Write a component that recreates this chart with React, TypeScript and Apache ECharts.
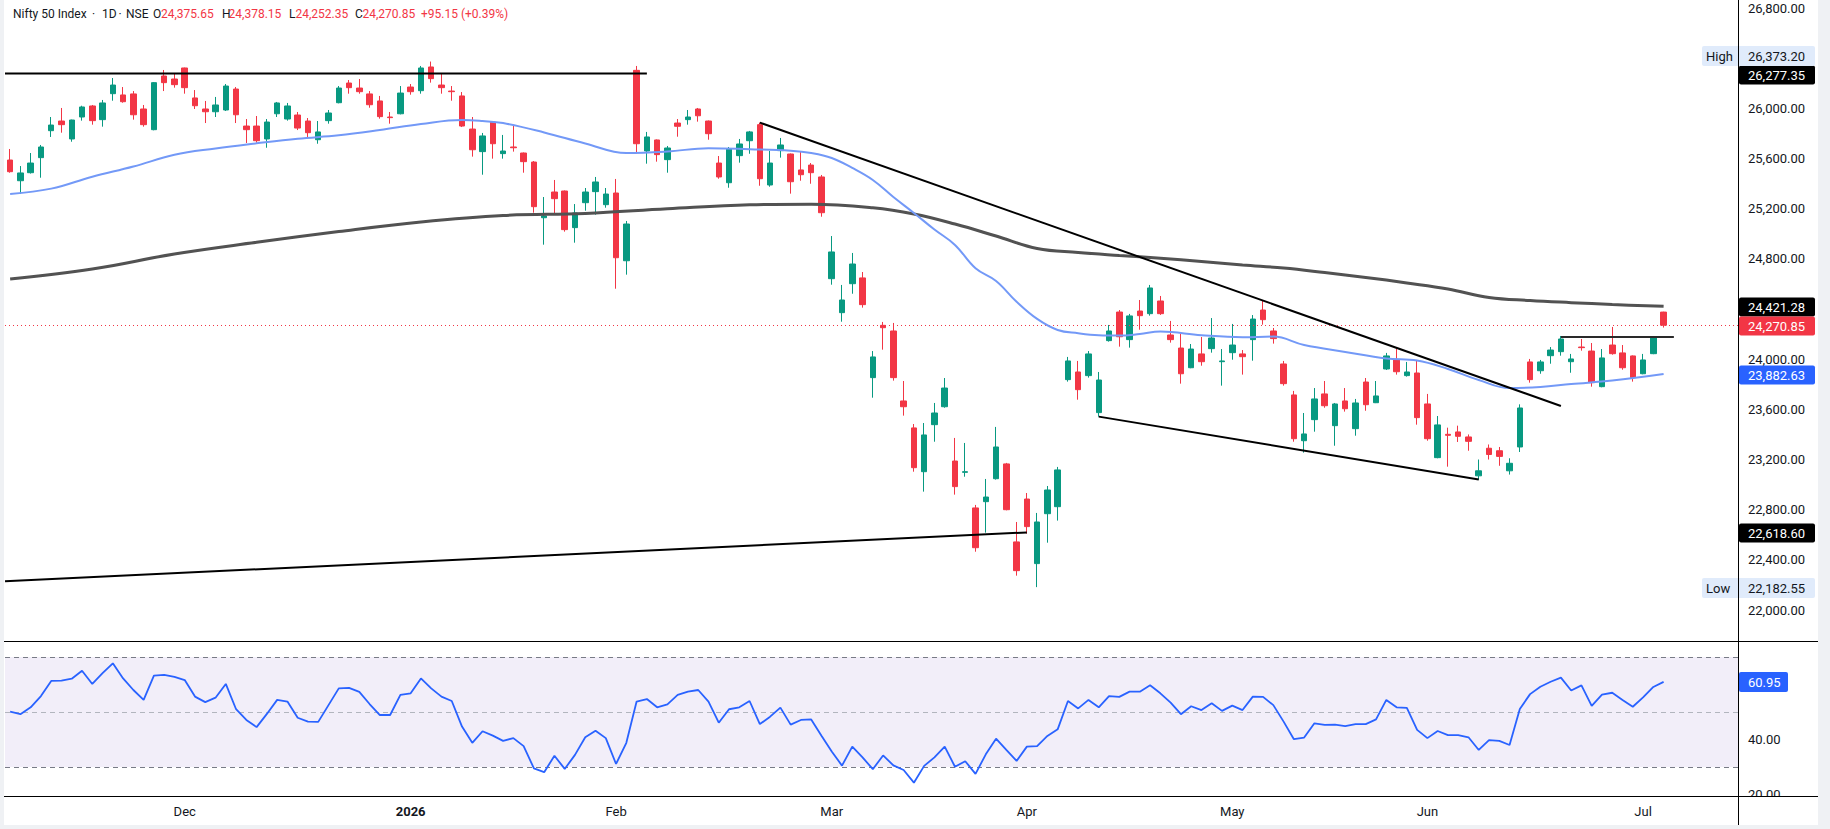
import React, { useEffect, useRef } from 'react';
import * as echarts from 'echarts';

// ---------- DATA ----------
const OPEN = [
  25588, 25423, 25487, 25607, 25822, 25899, 25756, 25931, 26019, 25910,
  26117, 26107, 26115, 25995, 25830, 26258, 26234, 26322, 26083, 25995,
  25973, 25987, 26154, 25859, 25859, 25756, 25957, 25915, 25947, 25899,
  25750, 25902, 26045, 26202, 26162, 26115, 26059, 25931, 25957, 26170,
  26141, 26330, 26186, 26138, 26099, 25835, 25655, 25891, 25639, 25692,
  25644, 25572, 25128, 25333, 25341, 25049, 25248, 25336, 25232, 25325,
  24785, 26303, 25660, 25748, 25591, 25883, 25910, 25995, 25899, 25564,
  25407, 25623, 25742, 25870, 25389, 25663, 25636, 25509, 25548, 25453,
  24642, 24371, 24602, 24648, 23853, 24270, 24225, 23667, 23452, 23103,
  23478, 23621, 23188, 23098, 22814, 22864, 23047, 23165, 22543, 22885,
  22370, 22768, 22824, 23837, 23898, 23869, 23574, 24148, 24376, 24156,
  24384, 24363, 24464, 24193, 24089, 23932, 24042, 24084, 23980, 24052,
  24042, 24156, 24392, 24225, 23962, 23715, 23350, 23518, 23723, 23470,
  23667, 23446, 23818, 23653, 23922, 23994, 23869, 23890, 23643, 23215,
  23401, 23420, 23380, 23070, 23290, 23270, 23110, 23300, 23978, 23908,
  24028, 24060, 23980, 24097, 24065, 23781, 24113, 24050, 24026, 23884,
  24044, 24375.65,
];
const HIGH = [
  25676, 25540, 25644, 25708, 25931, 26003, 25910, 26021, 26027, 26067,
  26242, 26170, 26138, 26027, 26210, 26306, 26276, 26325, 26146, 26059,
  26091, 26194, 26170, 25915, 25939, 25915, 26051, 26043, 25971, 25923,
  25899, 25987, 26178, 26226, 26234, 26138, 26099, 25971, 26178, 26194,
  26338, 26373.2, 26274, 26178, 26130, 25931, 25804, 25895, 25788, 25867,
  25648, 25580, 25293, 25429, 25345, 25237, 25365, 25453, 25365, 25437,
  25102, 26338, 25812, 25752, 25700, 25915, 25987, 26003, 25903, 25620,
  25692, 25756, 25820, 25886, 25660, 25764, 25640, 25652, 25564, 25469,
  24982, 24592, 24847, 24695, 24065, 24297, 24289, 23826, 23483, 23491,
  23651, 23850, 23372, 23332, 22838, 23045, 23460, 23173, 22702, 22933,
  22774, 22989, 23141, 24018, 23986, 24065, 23898, 24273, 24392, 24361,
  24472, 24592, 24504, 24305, 24201, 24121, 24177, 24328, 24081, 24281,
  24073, 24352, 24472, 24249, 23986, 23747, 23571, 23770, 23826, 23651,
  23770, 23683, 23850, 23826, 24050, 24081, 23978, 23994, 23723, 23547,
  23454, 23470, 23400, 23200, 23320, 23300, 23210, 23640, 24002, 23994,
  24097, 24185, 24042, 24161, 24129, 24081, 24257, 24113, 24030, 24042,
  24185, 24378.15,
];
const LOW = [
  25487, 25317, 25480, 25447, 25772, 25806, 25734, 25902, 25870, 25854,
  26061, 26045, 25910, 25854, 25825, 26138, 26165, 26117, 25995, 25883,
  25931, 25979, 25883, 25724, 25726, 25686, 25931, 25902, 25827, 25764,
  25718, 25878, 26040, 26117, 26117, 26005, 25918, 25878, 25952, 26109,
  26117, 26205, 26117, 26061, 25851, 25615, 25471, 25599, 25599, 25655,
  25487, 25168, 24913, 25160, 25017, 24929, 25184, 25152, 25208, 24562,
  24674, 25640, 25559, 25575, 25487, 25774, 25870, 25894, 25750, 25439,
  25367, 25567, 25638, 25383, 25375, 25607, 25320, 25423, 25399, 25136,
  24594, 24299, 24522, 24411, 23693, 24076, 23829, 23550, 23103, 22944,
  23342, 23613, 22920, 23063, 22465, 22617, 23040, 22795, 22274, 22609,
  22182.55, 22537, 22713, 23821, 23677, 23853, 23542, 24140, 24100, 24092,
  24235, 24347, 24353, 24132, 23805, 23928, 23948, 24052, 23789, 23996,
  23877, 23988, 24275, 24124, 23789, 23342, 23255, 23422, 23613, 23310,
  23582, 23390, 23589, 23650, 23914, 23877, 23861, 23478, 23350, 23210,
  23143, 23340, 23270, 23040, 23200, 23150, 23080, 23260, 23813, 23884,
  23964, 24028, 23892, 24068, 23781, 23776, 24036, 23916, 23821, 23880,
  24040, 24252.35,
];
const CLOSE = [
  25495, 25485, 25564, 25692, 25867, 25870, 25907, 26011, 25902, 26043,
  26186, 26053, 25949, 25870, 26205, 26205, 26189, 26165, 26021, 25973,
  26027, 26178, 25949, 25830, 25742, 25891, 26043, 26019, 25843, 25806,
  25812, 25963, 26162, 26165, 26133, 26029, 25934, 25926, 26122, 26133,
  26322, 26237, 26165, 26133, 25859, 25670, 25780, 25718, 25660, 25686,
  25575, 25216, 25142, 25280, 25033, 25166, 25333, 25413, 25317, 24809,
  25078, 25718, 25772, 25631, 25684, 25857, 25931, 25941, 25798, 25453,
  25676, 25716, 25812, 25439, 25564, 25708, 25415, 25471, 25487, 25168,
  24855, 24472, 24759, 24435, 24018, 24251, 23853, 23621, 23135, 23396,
  23571, 23770, 22984, 23103, 22497, 22901, 23300, 22800, 22314, 22665,
  22702, 22957, 23117, 23986, 23757, 24042, 23834, 24225, 24179, 24345,
  24347, 24568, 24363, 24156, 23884, 24081, 23980, 24169, 23986, 24113,
  24020, 24320, 24315, 24164, 23805, 23366, 23404, 23683, 23629, 23643,
  23605, 23651, 23637, 23707, 24026, 23900, 23898, 23534, 23366, 23476,
  23393, 23385, 23345, 23110, 23240, 23225, 23170, 23611, 23837, 23978,
  24073, 24161, 24002, 24092, 23813, 24010, 24044, 23932, 23853, 23994,
  24175.7, 24270.85,
];
const RSI = [
  50.1, 49.2, 51.7, 55.8, 61.3, 61.4, 62.1, 65.0, 60.2, 64.1,
  67.7, 62.2, 58.0, 54.4, 63.2, 63.5, 62.8, 61.6, 55.6, 53.6,
  55.2, 60.2, 51.0, 47.1, 44.5, 49.3, 54.4, 53.8, 47.9, 46.5,
  46.4, 52.5, 58.6, 58.8, 57.3, 52.9, 48.9, 48.9, 56.2, 56.8,
  62.2, 58.6, 55.6, 54.0, 44.7, 38.8, 43.0, 41.4, 39.5, 40.5,
  37.6, 29.5, 28.1, 34.1, 29.3, 34.4, 40.8, 43.2, 40.5, 31.1,
  38.8, 53.8, 54.7, 51.7, 52.8, 56.2, 57.4, 58.0, 53.8, 46.1,
  51.0, 51.7, 54.0, 45.6, 48.3, 51.6, 45.4, 47.1, 47.3, 41.4,
  35.6, 30.5, 37.4, 33.5, 29.2, 34.2, 30.6, 28.9, 24.3, 30.4,
  33.5, 37.4, 30.1, 32.1, 27.5, 34.6, 40.3, 36.2, 32.2, 37.4,
  37.6, 41.3, 43.7, 54.0, 51.3, 54.4, 51.7, 55.8, 55.5, 57.4,
  57.4, 59.7, 56.8, 53.4, 49.2, 52.1, 50.7, 53.2, 50.4, 52.3,
  50.7, 55.6, 55.5, 52.5, 46.5, 40.1, 40.7, 45.9, 45.3, 45.4,
  44.9, 45.6, 45.6, 47.3, 54.4, 51.7, 51.5, 43.5, 40.5, 43.1,
  41.6, 41.6, 40.8, 36.2, 39.8, 39.5, 38.0, 51.1, 56.5, 59.2,
  61.0, 62.5, 57.8, 59.7, 52.2, 56.3, 57.0, 54.4, 51.9, 55.3,
  59.1, 60.95,
];
// moving averages read at sample bars: [bar index, value]
const MA50 = [
  [0, 25317], [4, 25360], [8, 25455], [12, 25536], [16, 25630], [20, 25680], [24, 25721],
  [28, 25758], [32, 25785], [36, 25827], [40, 25875], [44, 25907], [46, 25899], [48, 25883],
  [52, 25808], [56, 25720], [60, 25644], [64, 25656], [68, 25682], [72, 25674], [76, 25662],
  [78, 25644], [80, 25604], [82, 25525], [84, 25429], [86, 25293], [88, 25166], [90, 25034],
  [92, 24911], [94, 24725], [96, 24624], [98, 24458], [100, 24321], [102, 24233], [104, 24207],
  [106, 24191], [108, 24188], [110, 24201], [112, 24220], [116, 24191], [120, 24175],
  [123, 24180], [126, 24113], [130, 24058], [134, 24006], [137, 23990], [140, 23922],
  [143, 23834], [146, 23770], [149, 23778], [152, 23802], [156, 23830], [161, 23882.63],
];
const MA200 = [
  [0, 24640], [8, 24719], [16, 24839], [24, 24932], [32, 25018], [40, 25094], [48, 25146],
  [56, 25162], [64, 25199], [72, 25231], [78, 25236], [84, 25207], [88, 25158], [92, 25078],
  [96, 24982], [100, 24883], [104, 24851], [108, 24827], [112, 24805], [116, 24779],
  [120, 24751], [124, 24727], [128, 24691], [132, 24652], [136, 24608], [140, 24560],
  [144, 24492], [148, 24468], [152, 24451], [156, 24436], [161, 24421.28],
];
// drawn lines: [[x1, y1], [x2, y2]] in bar index / price
const TRENDLINES = [
  [[-0.5, 26277.35], [62, 26277.35]],
  [[-0.5, 22229], [99, 22618.6]],
  [[73, 25886], [151, 23627]],
  [[106, 23542], [143, 23040]],
  [[151, 24177], [162, 24177]],
];
const MONTH_INDEX = [17, 39, 59, 80, 99, 119, 138, 159];
const MONTH_LABELS = ['Dec', '2026', 'Feb', 'Mar', 'Apr', 'May', 'Jun', 'Jul'];
const PRICE_TICKS = [26800, 26000, 25600, 25200, 24800, 24000, 23600, 23200, 22800, 22400, 22000];
const RSI_TICKS = [40, 20];
const RSI_LEVELS = [70, 50, 30];
const SYMBOL_PARTS = ['Nifty 50 Index', '·', '1D', '·', 'NSE'];
const OHLC_KEYS = ['O', 'H', 'L', 'C'];
const OHLC_VALUES = [24375.65, 24378.15, 24252.35, 24270.85];
const CHANGE_TEXT = '+95.15 (+0.39%)';
const PRICE_TAGS = [
  { v: 26277.35, bg: '#000000', fg: '#ffffff' },
  { v: 24421.28, bg: '#000000', fg: '#ffffff' },
  { v: 24270.85, bg: '#f23645', fg: '#ffffff' },
  { v: 23882.63, bg: '#2962ff', fg: '#ffffff' },
  { v: 22618.6, bg: '#000000', fg: '#ffffff' },
];
const EXTREMES = [
  { name: 'High', v: 26373.2, dy: -6 },
  { name: 'Low', v: 22182.55, dy: 1 },
];
const RSI_LAST = 60.95;

// ---------- LAYOUT ----------
const W = 1830;
const H = 829;
const PLOT_L = 5;
const AXIS_X = 1738;
const MAIN_H = 641;
const RSI_TOP = 641;
const RSI_BOT = 796;
const BAR_W = 10.27;
const X_MIN = -0.5;
const X_MAX = X_MIN + (AXIS_X - PLOT_L) / BAR_W;
const GREEN = '#089981';
const RED = '#f23645';
const TXT = '#131722';
const FONT = 'Roboto, "Noto Sans", sans-serif';
// legend layout (left x of each piece)
const SYMBOL_X = [13, 92, 102, 118.5, 126];
const OHLC_KEY_X = [153, 222, 289, 355];
const OHLC_VAL_X = [161, 228.6, 295.5, 362.5];
const CHANGE_X = 421;
const LEGEND_Y = 13.5;

const fmt = (v: number) =>
  v.toLocaleString('en-US', { minimumFractionDigits: 2, maximumFractionDigits: 2 });

function buildOption(): any {
  const candles = OPEN.map((o, i) => [i, o, CLOSE[i], LOW[i], HIGH[i]]);
  const lineSeries = TRENDLINES.map((seg, k) => ({
    type: 'line',
    xAxisIndex: 0,
    yAxisIndex: 0,
    data: seg,
    showSymbol: false,
    symbol: 'none',
    silent: true,
    z: 6,
    lineStyle: { color: k === 4 ? '#2a2a2a' : '#000000', width: 2 },
  }));
  return {
    animation: false,
    backgroundColor: '#ffffff',
    textStyle: { fontFamily: FONT },
    grid: [
      { left: PLOT_L, right: W - AXIS_X, top: 0, height: MAIN_H },
      { left: PLOT_L, right: W - AXIS_X, top: RSI_TOP, height: RSI_BOT - RSI_TOP },
    ],
    xAxis: [
      { type: 'value', gridIndex: 0, min: X_MIN, max: X_MAX, show: false },
      {
        type: 'value',
        gridIndex: 1,
        min: X_MIN,
        max: X_MAX,
        axisLine: { show: false },
        axisTick: { show: false },
        splitLine: { show: false },
        axisLabel: {
          customValues: MONTH_INDEX,
          margin: 9,
          color: TXT,
          fontSize: 13,
          fontFamily: FONT,
          formatter: (v: number) => {
            const k = MONTH_INDEX.indexOf(Math.round(v));
            if (k < 0) return '';
            return k === 1 ? `{b|${MONTH_LABELS[k]}}` : MONTH_LABELS[k];
          },
          rich: { b: { fontWeight: 'bold', fontSize: 13, color: TXT, fontFamily: FONT } },
        },
      },
    ],
    yAxis: [
      {
        type: 'value',
        gridIndex: 0,
        position: 'right',
        min: 21753,
        max: 26864,
        axisLine: { show: false },
        axisTick: { show: false },
        splitLine: { show: false },
        axisLabel: {
          customValues: PRICE_TICKS,
          formatter: (v: number) => fmt(v),
          color: TXT,
          fontSize: 13,
          fontFamily: FONT,
          margin: 10,
        },
      },
      {
        type: 'value',
        gridIndex: 1,
        position: 'right',
        min: 19.45,
        max: 75.82,
        axisLine: { show: false },
        axisTick: { show: false },
        splitLine: { show: false },
        axisLabel: {
          customValues: RSI_TICKS,
          formatter: (v: number) => fmt(v),
          color: TXT,
          fontSize: 13,
          fontFamily: FONT,
          margin: 10,
        },
      },
    ],
    series: [
      {
        type: 'candlestick',
        xAxisIndex: 0,
        yAxisIndex: 0,
        dimensions: ['idx', 'open', 'close', 'lowest', 'highest'],
        encode: { x: 'idx', y: ['open', 'close', 'lowest', 'highest'] },
        data: candles,
        barWidth: 6,
        z: 3,
        itemStyle: {
          color: GREEN,
          color0: RED,
          borderColor: GREEN,
          borderColor0: RED,
          borderWidth: 1,
        },
        markLine: {
          silent: true,
          symbol: 'none',
          label: { show: false },
          lineStyle: { color: RED, type: [1, 3], width: 1 },
          data: [{ yAxis: OHLC_VALUES[3] }],
        },
      },
      {
        type: 'line',
        xAxisIndex: 0,
        yAxisIndex: 0,
        data: MA200,
        smooth: 0.4,
        showSymbol: false,
        symbol: 'none',
        silent: true,
        z: 4,
        lineStyle: { color: '#525252', width: 3 },
      },
      {
        type: 'line',
        xAxisIndex: 0,
        yAxisIndex: 0,
        data: MA50,
        smooth: 0.4,
        showSymbol: false,
        symbol: 'none',
        silent: true,
        z: 5,
        lineStyle: { color: '#7399f7', width: 2 },
      },
      ...lineSeries,
      {
        type: 'line',
        xAxisIndex: 1,
        yAxisIndex: 1,
        data: RSI.map((v, i) => [i, v]),
        showSymbol: false,
        symbol: 'none',
        silent: true,
        z: 5,
        lineStyle: { color: '#2962ff', width: 1.8 },
        markArea: {
          silent: true,
          itemStyle: { color: 'rgba(126, 87, 194, 0.1)' },
          data: [[{ yAxis: 30 }, { yAxis: 70 }]],
        },
        markLine: {
          silent: true,
          symbol: 'none',
          label: { show: false },
          data: RSI_LEVELS.map((lv) => ({
            yAxis: lv,
            lineStyle: { color: lv === 50 ? '#b2b5be' : '#787b86', type: [5, 4], width: 1 },
          })),
        },
      },
    ],
  };
}

function txt(x: number, y: number, text: string, fill: string, size = 13, align = 'left') {
  return {
    type: 'text',
    z: 101,
    x,
    y,
    style: {
      text,
      fill,
      font: `${size}px ${FONT}`,
      textAlign: align,
      textVerticalAlign: 'middle',
      align,
      verticalAlign: 'middle',
    },
  };
}

function tag(x: number, yc: number, w: number, h: number, fill: string, text: string, color: string) {
  return {
    type: 'group',
    z: 100,
    children: [
      { type: 'rect', z: 100, shape: { x, y: yc - h / 2, width: w, height: h, r: 2 }, style: { fill } },
      txt(AXIS_X + 10, yc, text, color),
    ],
  };
}

function buildGraphics(chart: any): any[] {
  const py = (v: number) => chart.convertToPixel({ yAxisIndex: 0 }, v) as number;
  const ry = (v: number) => chart.convertToPixel({ yAxisIndex: 1 }, v) as number;
  const g: any[] = [];
  // frame
  g.push({ type: 'rect', z: 90, shape: { x: AXIS_X + 1, y: RSI_BOT + 1, width: 80, height: 28 }, style: { fill: '#ffffff' } });
  g.push({ type: 'rect', z: 120, shape: { x: 0, y: 0, width: 4, height: H }, style: { fill: '#eff1f4' } });
  g.push({ type: 'rect', z: 120, shape: { x: 1818, y: 0, width: W - 1818, height: H }, style: { fill: '#eff1f4' } });
  g.push({ type: 'rect', z: 120, shape: { x: 0, y: 825, width: W, height: 4 }, style: { fill: '#eff1f4' } });
  g.push({ type: 'line', z: 110, shape: { x1: 4, y1: RSI_TOP + 0.5, x2: 1818, y2: RSI_TOP + 0.5 }, style: { stroke: '#000', lineWidth: 1 } });
  g.push({ type: 'line', z: 110, shape: { x1: 4, y1: RSI_BOT + 0.5, x2: 1818, y2: RSI_BOT + 0.5 }, style: { stroke: '#000', lineWidth: 1 } });
  g.push({ type: 'line', z: 110, shape: { x1: AXIS_X + 0.5, y1: 0, x2: AXIS_X + 0.5, y2: 825 }, style: { stroke: '#000', lineWidth: 1 } });

  // price tags on axis
  PRICE_TAGS.forEach((t) => {
    const yc = Math.round(py(t.v)) + 1;
    g.push(tag(AXIS_X + 1, yc, 76, 19, t.bg, fmt(t.v), t.fg));
  });
  EXTREMES.forEach((e) => {
    const yc = Math.round(py(e.v)) + e.dy;
    g.push({
      type: 'group',
      z: 100,
      children: [
        { type: 'rect', z: 100, shape: { x: 1702, y: yc - 10, width: 113, height: 20, r: 2 }, style: { fill: '#e0ebfb' } },
        txt(1706, yc, e.name, TXT),
        txt(AXIS_X + 10, yc, fmt(e.v), TXT),
      ],
    });
  });
  const rc = Math.round(ry(RSI_LAST));
  g.push(tag(AXIS_X + 1, rc, 49, 20, '#2962ff', fmt(RSI_LAST), '#ffffff'));

  // legend line
  SYMBOL_PARTS.forEach((s, i) => g.push(txt(SYMBOL_X[i], LEGEND_Y, s, TXT, 12)));
  OHLC_KEYS.forEach((k, i) => {
    g.push(txt(OHLC_KEY_X[i], LEGEND_Y, k, TXT, 12));
    g.push(txt(OHLC_VAL_X[i], LEGEND_Y, fmt(OHLC_VALUES[i]), RED, 12));
  });
  g.push(txt(CHANGE_X, LEGEND_Y, CHANGE_TEXT, RED, 12));
  return g;
}

export default function App() {
  const ref = useRef<HTMLDivElement>(null);
  useEffect(() => {
    const el = ref.current;
    if (!el) return;
    const chart = echarts.init(el, undefined, { renderer: 'svg' });
    chart.setOption(buildOption());
    chart.setOption({ graphic: buildGraphics(chart) });
    return () => chart.dispose();
  }, []);
  return (
    <div
      ref={ref}
      style={{ position: 'fixed', left: 0, top: 0, width: W, height: H, background: '#ffffff' }}
    />
  );
}
